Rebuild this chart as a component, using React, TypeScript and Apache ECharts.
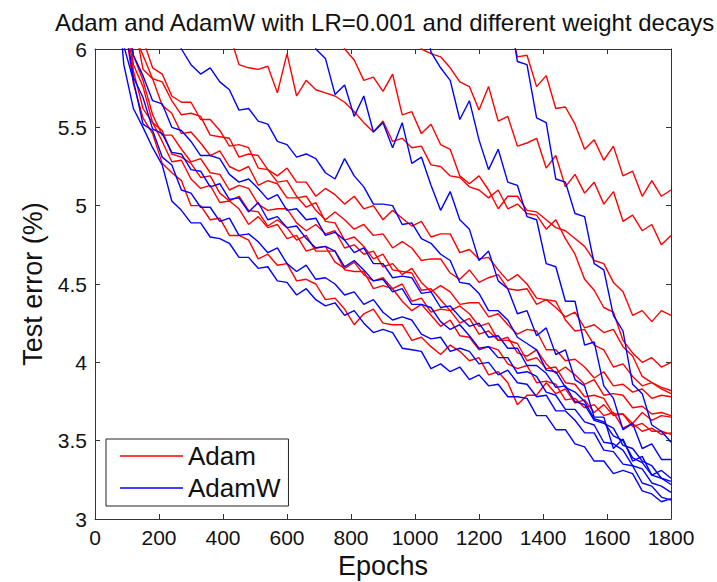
import React, { useEffect, useRef } from "react";
import * as echarts from "echarts";

const TITLE = "Adam and AdamW with LR=0.001 and different weight decays";
const X_NAME = "Epochs";
const Y_NAME = "Test error (%)";

const EPOCHS = [
  30, 60, 90, 120, 150, 180, 210, 240, 270, 300,
  330, 360, 390, 420, 450, 480, 510, 540, 570, 600,
  630, 660, 690, 720, 750, 780, 810, 840, 870, 900,
  930, 960, 990, 1020, 1050, 1080, 1110, 1140, 1170, 1200,
  1230, 1260, 1290, 1320, 1350, 1380, 1410, 1440, 1470, 1500,
  1530, 1560, 1590, 1620, 1650, 1680, 1710, 1740, 1770, 1800,
];

// Each array is aligned to the END of EPOCHS (last value = epoch 1800).
const ADAM_1 = [6.2, 5.95, 5.96, 5.76, 5.83, 5.62, 5.63, 5.52,
  5.36, 5.42, 5.29, 5.38, 5.19, 5.22, 5.06, 5.16, 5.06, 5.1];
const ADAM_2 = [6.25, 6.0, 5.97, 5.95, 5.88, 5.79, 5.76, 5.61,
  5.76, 5.54, 5.57, 5.38, 5.4, 5.43, 5.24, 5.32, 5.12, 5.2,
  5.08, 5.15, 5.01, 5.09, 4.9, 4.94, 4.84, 4.88, 4.75, 4.81];
const ADAM_3 = [6.3, 6.0, 5.93, 5.8, 5.82, 5.73,
  5.84, 5.58, 5.6, 5.46, 5.52, 5.39, 5.36, 5.19, 5.14, 5.19,
  5.1, 4.98, 5.06, 5.06, 4.97, 4.96, 4.91, 4.86, 4.84, 4.79,
  4.74, 4.65, 4.63, 4.51, 4.45, 4.3, 4.33, 4.26, 4.33, 4.3];
const ADAM_4 = [6.4, 6.1, 5.9, 5.88, 5.87, 5.89, 5.72, 5.97,
  5.7, 5.8, 5.74, 5.72, 5.7, 5.66, 5.6, 5.53, 5.47, 5.54,
  5.41, 5.43, 5.37, 5.38, 5.26, 5.25, 5.19, 5.18, 5.12, 5.1,
  5.05, 5.1, 4.98, 5.01, 4.95, 4.94, 4.85, 4.91, 4.79, 4.69,
  4.53, 4.46, 4.35, 4.32, 4.14, 4.06, 4.0, 4.03, 3.97, 4.0];
const ADAM_5 = [8.0, 6.6, 6.1, 5.96, 5.81, 5.79, 5.67, 5.58, 5.59,
  5.57, 5.45, 5.44, 5.43, 5.31, 5.33, 5.32, 5.23, 5.19, 5.24,
  5.15, 5.15, 5.06, 5.11, 5.07, 5.01, 5.06, 4.98, 5.0, 4.91,
  4.97, 4.92, 4.87, 4.9, 4.8, 4.82, 4.82, 4.7, 4.72, 4.66,
  4.67, 4.59, 4.52, 4.56, 4.5, 4.41, 4.4, 4.39, 4.27, 4.2,
  4.21, 4.11, 4.08, 3.97, 3.99, 3.91, 3.85, 3.87, 3.84, 3.82];
const ADAM_6 = [8.2, 6.8, 6.2, 5.87, 5.81, 5.64, 5.59, 5.46, 5.47,
  5.4, 5.32, 5.35, 5.25, 5.22, 5.25, 5.13, 5.16, 5.14, 5.05,
  5.05, 5.06, 4.97, 4.91, 4.96, 4.91, 4.85, 4.88, 4.81, 4.82,
  4.73, 4.77, 4.73, 4.65, 4.66, 4.66, 4.57, 4.53, 4.59, 4.51,
  4.54, 4.56, 4.47, 4.46, 4.47, 4.37, 4.4, 4.35, 4.29, 4.32,
  4.22, 4.24, 4.19, 4.21, 4.1, 4.04, 3.91, 3.87, 3.83, 3.8];
const ADAM_7 = [7.8, 6.5, 5.96, 5.8, 5.58, 5.45, 5.45, 5.36, 5.28,
  5.3, 5.21, 5.2, 5.1, 5.13, 5.11, 5.01, 4.97, 4.98, 4.98,
  4.89, 4.84, 4.88, 4.82, 4.84, 4.73, 4.75, 4.69, 4.71, 4.61,
  4.63, 4.56, 4.6, 4.51, 4.45, 4.49, 4.45, 4.37, 4.38, 4.38,
  4.29, 4.31, 4.24, 4.18, 4.21, 4.2, 4.08, 4.08, 4.01, 4.02,
  3.97, 3.9, 3.94, 3.85, 3.86, 3.81, 3.83, 3.77, 3.79, 3.78];
const ADAM_8 = [7.6, 6.3, 5.86, 5.62, 5.53, 5.41, 5.28, 5.29, 5.17,
  5.11, 5.13, 5.02, 5.03, 4.98, 4.88, 4.93, 4.86, 4.88, 4.79,
  4.81, 4.71, 4.73, 4.74, 4.64, 4.6, 4.64, 4.56, 4.52, 4.54,
  4.47, 4.5, 4.39, 4.41, 4.32, 4.34, 4.33, 4.25, 4.28, 4.18,
  4.2, 4.14, 4.16, 4.06, 4.04, 4.08, 3.99, 3.93, 3.97, 3.92,
  3.86, 3.89, 3.79, 3.8, 3.79, 3.71, 3.72, 3.67, 3.68, 3.66];
const ADAM_9 = [7.4, 6.2, 5.78, 5.56, 5.46, 5.27, 5.21, 5.16, 5.0,
  5.0, 4.91, 4.92, 4.81, 4.81, 4.78, 4.66, 4.69, 4.62, 4.63,
  4.52, 4.53, 4.5, 4.4, 4.41, 4.34, 4.24, 4.31, 4.34, 4.25,
  4.24, 4.24, 4.14, 4.16, 4.1, 4.05, 4.11, 4.07, 4.01, 4.03,
  3.92, 3.94, 3.87, 3.73, 3.79, 3.79, 3.87, 3.8, 3.83, 3.74,
  3.76, 3.68, 3.73, 3.66, 3.67, 3.61, 3.68, 3.63, 3.66, 3.65];
const ADAM_10 = [7.7, 6.4, 5.9, 5.76, 5.53, 5.48, 5.33, 5.31, 5.27,
  5.18, 5.19, 5.08, 5.03, 5.06, 4.97, 4.96, 4.87, 4.91, 4.86,
  4.78, 4.81, 4.71, 4.71, 4.71, 4.59, 4.58, 4.58, 4.47, 4.49,
  4.47, 4.39, 4.33, 4.37, 4.3, 4.23, 4.27, 4.17, 4.16, 4.08,
  4.1, 4.08, 3.99, 3.96, 3.98, 3.87, 3.88, 3.86, 3.76, 3.77,
  3.71, 3.73, 3.66, 3.68, 3.58, 3.61, 3.56, 3.58, 3.54, 3.55];
const ADAM_11 = [7.2, 6.4, 6.06, 5.88, 5.84, 5.7, 5.66, 5.66,
  5.55, 5.55, 5.48, 5.38, 5.39, 5.37, 5.24, 5.23, 5.15, 5.16,
  5.06, 4.99, 5.02, 4.9, 4.89, 4.78, 4.8, 4.74, 4.66, 4.69,
  4.59, 4.58, 4.57, 4.46, 4.47, 4.4, 4.33, 4.36, 4.31, 4.23,
  4.25, 4.14, 4.14, 4.12, 4.01, 4.03, 3.96, 3.97, 3.87, 3.86,
  3.78, 3.79, 3.77, 3.67, 3.67, 3.59, 3.61, 3.56, 3.56, 3.54];

const ADAMW_1 = [6.3, 5.92, 5.9, 5.56, 5.53, 5.17, 5.15, 4.95,
  4.93, 4.63, 4.59, 4.3, 4.2, 3.86, 3.8, 3.6, 3.56, 3.49];
const ADAMW_2 = [6.3, 5.98, 5.88, 5.8, 5.55, 5.67, 5.42,
  5.23, 5.36, 5.15, 5.13, 4.93, 4.91, 4.63, 4.61, 4.39, 4.39,
  4.11, 4.13, 3.85, 3.77, 3.57, 3.61, 3.45, 3.48, 3.38, 3.38];
const ADAMW_3 = [6.4, 6.0, 5.94, 5.71, 5.77, 5.57, 5.7, 5.47, 5.53,
  5.37, 5.53, 5.27, 5.31, 5.13, 4.97, 5.09, 4.91, 4.85, 4.65,
  4.71, 4.52, 4.47, 4.31, 4.33, 4.17, 4.22, 4.05, 4.08, 3.89,
  3.85, 3.65, 3.65, 3.45, 3.51, 3.37, 3.4, 3.28, 3.31, 3.26];
const ADAMW_4 = [6.3, 6.0, 5.9,
  5.84, 5.88, 5.79, 5.74, 5.61, 5.62, 5.54, 5.52, 5.41, 5.39,
  5.31, 5.33, 5.3, 5.21, 5.17, 5.3, 5.19, 5.12, 5.01, 5.01,
  5.0, 4.88, 4.89, 4.79, 4.76, 4.69, 4.65, 4.51, 4.5, 4.44,
  4.33, 4.33, 4.27, 4.16, 4.12, 4.08, 3.95, 3.94, 3.84, 3.81,
  3.75, 3.64, 3.62, 3.53, 3.5, 3.39, 3.36, 3.28, 3.26, 3.22];
const ADAMW_5 = [8.5, 6.6, 5.9, 5.62, 5.5, 5.37, 5.26, 5.03, 4.97, 4.89,
  4.89, 4.8, 4.79, 4.76, 4.67, 4.67, 4.6, 4.61, 4.52, 4.51,
  4.43, 4.47, 4.4, 4.36, 4.38, 4.3, 4.33, 4.25, 4.19, 4.21,
  4.19, 4.09, 4.08, 4.07, 3.96, 3.99, 3.94, 3.97, 3.89, 3.92,
  3.85, 3.86, 3.78, 3.78, 3.77, 3.66, 3.66, 3.57, 3.57, 3.48,
  3.46, 3.37, 3.37, 3.29, 3.31, 3.29, 3.18, 3.16, 3.11, 3.13];
const ADAMW_6 = [8.8, 6.8, 6.02, 5.8, 5.52, 5.48, 5.31, 5.26, 5.1, 5.08,
  4.99, 4.99, 4.9, 4.92, 4.81, 4.82, 4.77, 4.7, 4.73, 4.63,
  4.58, 4.62, 4.53, 4.54, 4.5, 4.43, 4.45, 4.37, 4.4, 4.32,
  4.27, 4.29, 4.27, 4.18, 4.15, 4.16, 4.07, 4.09, 4.07, 3.99,
  4.0, 3.92, 3.95, 3.87, 3.86, 3.78, 3.79, 3.69, 3.69, 3.63,
  3.55, 3.55, 3.44, 3.43, 3.35, 3.34, 3.23, 3.21, 3.14, 3.12];
const ADAMW_7 = [9.0, 7.0, 6.2, 5.82, 5.69, 5.49, 5.46, 5.34, 5.33, 5.23,
  5.22, 5.12, 5.14, 5.04, 5.05, 4.96, 5.02, 4.91, 4.93, 4.86,
  4.87, 4.79, 4.73, 4.74, 4.71, 4.61, 4.65, 4.59, 4.52, 4.53,
  4.45, 4.47, 4.37, 4.37, 4.35, 4.26, 4.21, 4.24, 4.17, 4.09,
  4.1, 4.03, 4.03, 3.93, 3.94, 3.91, 3.81, 3.79, 3.7, 3.7,
  3.62, 3.6, 3.49, 3.48, 3.44, 3.34, 3.32, 3.23, 3.21, 3.17];
const ADAMW_8 = [9.2, 7.2, 6.3, 5.96, 5.83, 5.67, 5.65, 5.5, 5.48, 5.41,
  5.32, 5.32, 5.3, 5.2, 5.15, 5.17, 5.11, 5.04, 5.07, 4.97,
  4.98, 4.91, 4.92, 4.81, 4.83, 4.78, 4.7, 4.73, 4.63, 4.63,
  4.54, 4.55, 4.54, 4.44, 4.45, 4.35, 4.36, 4.29, 4.23, 4.25,
  4.16, 4.17, 4.09, 4.09, 3.98, 3.98, 3.93, 3.84, 3.85, 3.75,
  3.73, 3.63, 3.61, 3.58, 3.47, 3.45, 3.37, 3.34, 3.26, 3.24];

const ADAM_SERIES = [ADAM_1, ADAM_2, ADAM_3, ADAM_4, ADAM_5, ADAM_6, ADAM_7, ADAM_8, ADAM_9, ADAM_10, ADAM_11];
const ADAMW_SERIES = [ADAMW_1, ADAMW_2, ADAMW_3, ADAMW_4, ADAMW_5, ADAMW_6, ADAMW_7, ADAMW_8];

const X_TICKS = { min: 0, max: 1800, interval: 200 };
const Y_TICKS = { min: 3, max: 6, interval: 0.5 };

const RED = "#ff0000";
const BLUE = "#0000ff";
const FONT = "'Liberation Sans', Arial, Helvetica, sans-serif";
const AXIS_COLOR = "#333333";

function toPoints(vals: number[]) {
  const offset = EPOCHS.length - vals.length;
  return vals.map((v, i) => [EPOCHS[offset + i], v]);
}

function lineSeries(name: string, color: string, vals: number[]) {
  return {
    type: "line",
    name,
    data: toPoints(vals),
    showSymbol: false,
    symbol: "none",
    clip: true,
    silent: true,
    lineStyle: { color, width: 1.4 },
    itemStyle: { color },
  };
}

export default function App() {
  const ref = useRef<HTMLDivElement>(null);
  useEffect(() => {
    document.body.style.margin = "0";
    if (!ref.current) return;
    const chart = echarts.init(ref.current, undefined, { renderer: "svg" });
    const axisCommon = {
      type: "value",
      splitLine: { show: false },
      axisLine: { show: true, onZero: false, lineStyle: { color: AXIS_COLOR, width: 1 } },
      axisTick: { show: true, inside: true, length: 5, lineStyle: { color: AXIS_COLOR } },
    };
    const option = {
      animation: false,
      backgroundColor: "#ffffff",
      title: {
        text: TITLE,
        left: 50,
        top: 5,
        textStyle: { fontFamily: FONT, fontSize: 24, fontWeight: "normal", color: "#111" },
      },
      legend: {
        data: ["Adam", "AdamW"],
        orient: "vertical",
        left: 106,
        top: 439,
        icon: "rect",
        itemWidth: 63,
        itemHeight: 1.5,
        itemGap: 6,
        padding: [4, 8, 5, 14],
        backgroundColor: "#ffffff",
        borderColor: "#222",
        borderWidth: 1,
        textStyle: { fontFamily: FONT, fontSize: 26, color: "#111" },
      },
      grid: {
        left: 95, right: 46, top: 49, bottom: 63,
        containLabel: false, outerBoundsMode: "none",
      },
      xAxis: [
        {
          ...axisCommon,
          position: "bottom",
          ...X_TICKS,
          name: X_NAME,
          nameLocation: "middle",
          nameGap: 33,
          nameTextStyle: { fontFamily: FONT, fontSize: 27, color: "#111" },
          axisLabel: {
            fontFamily: FONT, fontSize: 21, color: "#111", margin: 8,
            formatter: (v: number) => String(v),
          },
        },
        {
          ...axisCommon,
          position: "top",
          ...X_TICKS,
          axisLabel: { show: false },
        },
      ],
      yAxis: [
        {
          ...axisCommon,
          position: "left",
          ...Y_TICKS,
          name: Y_NAME,
          nameLocation: "middle",
          nameGap: 37,
          nameTextStyle: { fontFamily: FONT, fontSize: 27, color: "#111" },
          axisLabel: {
            fontFamily: FONT, fontSize: 21, color: "#111", margin: 8,
            formatter: (v: number) => String(v),
          },
        },
        {
          ...axisCommon,
          position: "right",
          ...Y_TICKS,
          axisLabel: { show: false },
        },
      ],
      series: [
        ...ADAM_SERIES.map((v) => lineSeries("Adam", RED, v)),
        ...ADAMW_SERIES.map((v) => lineSeries("AdamW", BLUE, v)),
      ],
    };
    chart.setOption(option as any);
    return () => chart.dispose();
  }, []);
  return <div ref={ref} style={{ width: 717, height: 582 }} />;
}
